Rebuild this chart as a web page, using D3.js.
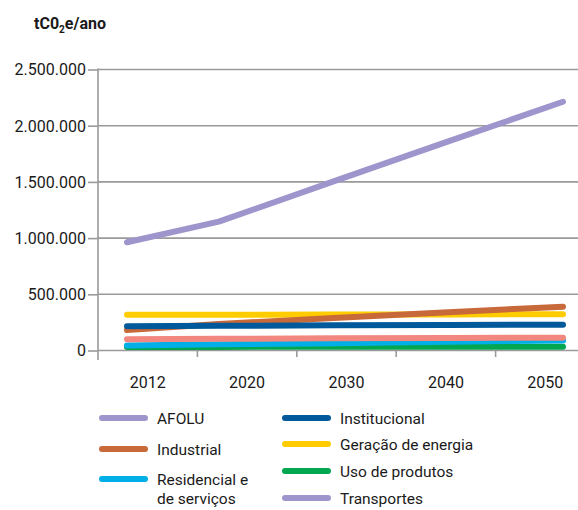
<!DOCTYPE html>
<html>
<head>
<meta charset="utf-8">
<script src="https://cdn.jsdelivr.net/npm/d3@7"></script>
<style>
  html, body { margin: 0; padding: 0; background: #fff; }
  svg { display: block; font-family: Roboto, "Open Sans", sans-serif; }
</style>
</head>
<body>
<svg id="chart" width="578" height="510"></svg>
<script>
// Emissions by sector, tCO2e per year
const years = [2012, 2020, 2030, 2040, 2050];
const yearLabels = ["2012", "2020", "2030", "2040", "2050"];
const yTicks = [0, 500000, 1000000, 1500000, 2000000, 2500000];

const transportes = [963000, 1146000, 1505000, 1860000, 2213000];
const geracao = [318000, 318000, 320000, 321000, 322000];
const industrial = [182000, 235000, 290000, 340000, 390000];
const institucional = [215000, 220000, 224000, 227000, 230000];
const usoProdutos = [31000, 32000, 33000, 33000, 34000];
const residencial = [45000, 55000, 65000, 78000, 90000];
const afolu = [100000, 104000, 108000, 111000, 114000];

const seriesNames = ["Geração de energia", "Industrial", "Institucional", "Uso de produtos",
  "Residencial e de serviços", "AFOLU", "Transportes"];
const seriesValues = [geracao, industrial, institucional, usoProdutos, residencial, afolu, transportes];
const lineColors = ["#ffcc00", "#c8693a", "#00599a", "#00a650", "#00aee8", "#f2877f", "#9d95cb"];

// legend: label lines and swatch colour, column by column
const legendCol1 = [
  { text: ["AFOLU"], color: "#9d95cb" },
  { text: ["Industrial"], color: "#c8693a" },
  { text: ["Residencial e", "de serviços"], color: "#00aee8" }
];
const legendCol2 = [
  { text: ["Institucional"], color: "#00599a" },
  { text: ["Geração de energia"], color: "#ffcc00" },
  { text: ["Uso de produtos"], color: "#00a650" },
  { text: ["Transportes"], color: "#9d95cb" }
];

const svg = d3.select("#chart");
svg.append("rect").attr("width", 578).attr("height", 510).attr("fill", "#fff");

const left = 98, zeroY = 350.5, topY = 69.5;
const y = d3.scaleLinear().domain([0, 2500000]).range([zeroY, topY]);
const xBand = d3.scaleBand().domain(yearLabels).range([left, left + 5 * 99.4]);
const xYear = d3.scaleLinear().domain([2012, 2050]).range([127, 563]);

const fmt = v => d3.format(",")(v).replace(/,/g, ".");
const gridColor = "#9a9a9a";
const textColor = "#1a1a1a";

// horizontal gridlines
svg.append("g").selectAll("line").data(yTicks).join("line")
  .attr("x1", left).attr("x2", 578)
  .attr("y1", d => y(d)).attr("y2", d => y(d))
  .attr("stroke", gridColor).attr("stroke-width", 1.6);

// y axis
const yAxis = d3.axisLeft(y).tickValues(yTicks).tickFormat(fmt).tickSize(10).tickPadding(2);
const gy = svg.append("g").attr("transform", `translate(${left},0)`).call(yAxis);
gy.select(".domain").remove();
gy.selectAll(".tick line").attr("stroke", gridColor).attr("stroke-width", 1.6);
gy.selectAll(".tick text").attr("font-size", 16).attr("fill", textColor)
  .attr("font-family", "Roboto, sans-serif").attr("dy", "0.34em");
svg.append("line").attr("x1", left).attr("x2", left).attr("y1", topY - 1).attr("y2", 360)
  .attr("stroke", gridColor).attr("stroke-width", 1.6);

// x axis: category band boundaries as ticks
const bounds = xBand.domain().slice(1).map(d => xBand(d));
svg.append("g").selectAll("line").data(bounds).join("line")
  .attr("x1", d => d).attr("x2", d => d).attr("y1", zeroY).attr("y2", 357)
  .attr("stroke", gridColor).attr("stroke-width", 1.6);
svg.append("g").selectAll("text").data(yearLabels).join("text")
  .attr("x", d => xBand(d) + xBand.bandwidth() / 2)
  .attr("y", 388)
  .attr("text-anchor", "middle")
  .attr("font-size", 16).attr("fill", textColor)
  .text(d => d);

// unit label
const unit = svg.append("text").attr("x", 34).attr("y", 29)
  .attr("font-size", 16).attr("font-weight", "bold").attr("fill", textColor);
unit.append("tspan").text("tC0");
unit.append("tspan").attr("font-size", 10).attr("dy", 4).text("2");
unit.append("tspan").attr("dy", -4).text("e/ano");

// series lines
const line = d3.line().x((d, i) => xYear(years[i])).y(d => y(d));
svg.append("g").selectAll("path").data(seriesValues).join("path")
  .attr("d", d => line(d))
  .attr("fill", "none")
  .attr("stroke", (d, i) => lineColors[i])
  .attr("stroke-width", 6)
  .attr("stroke-linecap", "round")
  .attr("stroke-linejoin", "round");

// legend
function drawLegend(items, x, rowYs) {
  const g = svg.append("g");
  items.forEach((it, i) => {
    const yy = rowYs[i];
    g.append("line").attr("x1", x).attr("x2", x + 43).attr("y1", yy).attr("y2", yy)
      .attr("stroke", it.color).attr("stroke-width", 6).attr("stroke-linecap", "round");
    it.text.forEach((t, j) => {
      g.append("text").attr("x", x + 55).attr("y", yy + 6 + j * 18.5)
        .attr("font-size", 15.5).attr("fill", textColor).text(t);
    });
  });
}
drawLegend(legendCol1, 102, [418, 449, 479]);
drawLegend(legendCol2, 285, [418, 444, 471, 498]);
</script>
</body>
</html>
